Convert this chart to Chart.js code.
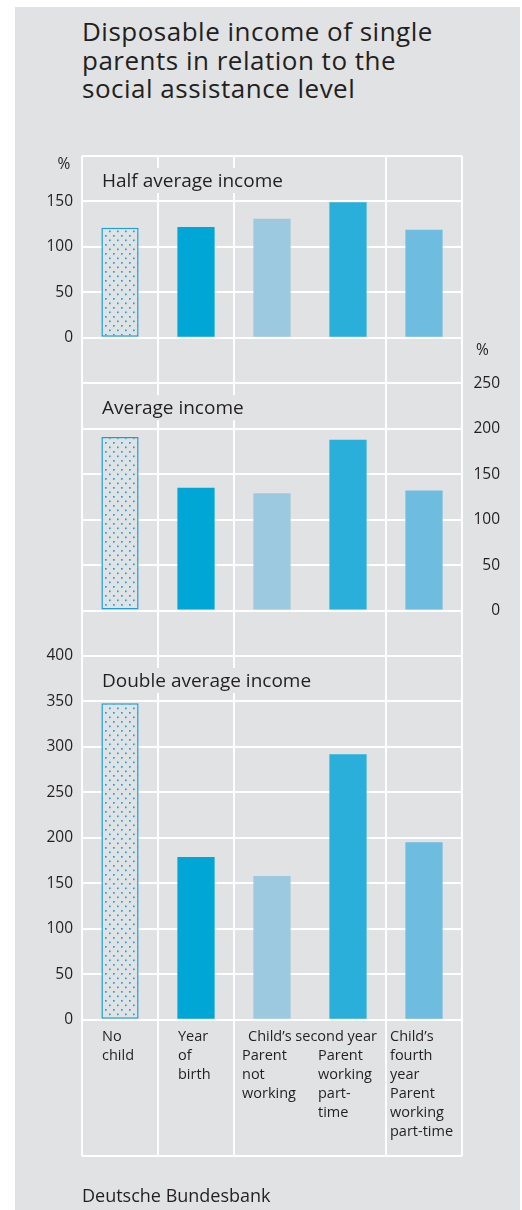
<!DOCTYPE html>
<html>
<head>
<meta charset="utf-8">
<title>Disposable income of single parents</title>
<script src="https://cdn.jsdelivr.net/npm/chart.js@4.4.1/dist/chart.umd.min.js"></script>
<style>
  html, body { margin: 0; padding: 0; background: #fff; overflow: hidden; }
  body { width: 522px; height: 1210px; position: relative; font-family: "Open Sans", sans-serif; color: #231f20; }
  .panel { position: absolute; left: 15px; top: 7px; width: 505px; height: 1203px; background: #e1e2e4; }
  h1 { position: absolute; left: 82px; top: 17px; margin: 0; font-size: 26px; line-height: 28.5px; font-weight: 400; letter-spacing: 0.5px; }
  .source { position: absolute; left: 82px; top: 1184px; font-size: 18px; line-height: 22px; }
  canvas { position: absolute; left: 0; top: 0; }
</style>
</head>
<body>
<div class="panel"></div>
<h1>Disposable income of single<br>parents in relation to the<br>social assistance level</h1>
<canvas id="incomeChart" width="522" height="1210"></canvas>
<div class="source">Deutsche Bundesbank</div>
<script>
// ===== DATA =====
const categories = [
  ["No", "child"],
  ["Year", "of", "birth"],
  ["Parent", "not", "working"],
  ["Parent", "working", "part-", "time"],
  ["Child’s", "fourth", "year", "Parent", "working", "part-time"]
];
const groupLabel = "Child’s second year";
const groupCategories = [2, 3];
const panelTitles = ["Half average income", "Average income", "Double average income"];

const halfAverage = [121, 122, 131, 149, 119];
const average = [191, 135, 129, 188, 132];
const doubleAverage = [348, 179, 158, 292, 195];

const topTicks = [0, 50, 100, 150];
const middleTicks = [0, 50, 100, 150, 200, 250];
const bottomTicks = [0, 50, 100, 150, 200, 250, 300, 350, 400];

// ===== STYLE =====
const GRAY = "#e1e2e4";
const INK = "#231f20";
const FONT = "'Open Sans', sans-serif";

const canvas = document.getElementById("incomeChart");
const ctx = canvas.getContext("2d");

// dotted fill for the "No child" bar
function dotPattern() {
  const tile = document.createElement("canvas");
  tile.width = 8;
  tile.height = 9;
  const g = tile.getContext("2d");
  g.fillStyle = GRAY;
  g.fillRect(0, 0, 8, 9);
  g.fillStyle = "#1ea5dc";
  g.fillRect(1, 1, 1.7, 1.7);
  g.fillRect(5, 5.5, 1.7, 1.7);
  return ctx.createPattern(tile, "repeat");
}

const barColors = [dotPattern(), "#00a6d6", "#9cc9e0", "#29afda", "#6ebde0"];

function barDataset(label, data, axis) {
  return {
    label: label,
    data: data,
    yAxisID: axis,
    grouped: false,
    backgroundColor: barColors,
    borderColor: ["#1d9fd6", "transparent", "transparent", "transparent", "transparent"],
    borderWidth: [1.5, 0, 0, 0, 0],
    borderSkipped: false,
    barPercentage: 0.49,
    categoryPercentage: 1
  };
}

const tickFont = { family: FONT, size: 15.5 };

function panelAxis(min, max, shown, weight, extra) {
  return Object.assign({
    position: "left",
    stack: "panels",
    stackWeight: max - min,
    weight: weight,
    min: min,
    max: max,
    ticks: {
      stepSize: 50,
      autoSkip: false,
      padding: 9,
      color: INK,
      font: tickFont,
      callback: v => shown.includes(v) ? v : ""
    },
    grid: {
      color: c => (c.tick && c.tick.value >= 0) ? "#fff" : "transparent",
      lineWidth: 2,
      drawTicks: false
    },
    border: { display: false },
    afterFit: s => { s.width = 82; }
  }, extra || {});
}

// ===== TEXT ON THE CHART =====
const annotations = {
  id: "annotations",
  beforeDatasetsDraw(chart) {
    const { ctx, chartArea, scales } = chart;
    ctx.save();
    ctx.font = "19px " + FONT;
    ctx.textBaseline = "alphabetic";
    ["yTop", "yMid", "yBot"].forEach((id, i) => {
      const x = chartArea.left + 20;
      const y = scales[id].top + 31;
      const w = ctx.measureText(panelTitles[i]).width;
      ctx.fillStyle = GRAY;
      ctx.fillRect(x - 3, y - 19, w + 6, 25);
      ctx.fillStyle = INK;
      ctx.fillText(panelTitles[i], x, y);
    });
    ctx.restore();
  },
  afterDraw(chart) {
    const { ctx, chartArea, scales } = chart;
    const { x, yTop, yMid, yBot } = scales;
    ctx.save();
    ctx.fillStyle = INK;
    ctx.textBaseline = "alphabetic";
    ctx.font = "15.5px " + FONT;

    // unit labels
    ctx.textAlign = "center";
    ctx.fillText("%", chartArea.left - 18, yTop.top + 13);
    ctx.textAlign = "left";
    ctx.fillText("%", chartArea.right + 14, yMid.top - 28);

    // category labels
    ctx.font = "14.5px " + FONT;
    const firstLine = yBot.getPixelForValue(0) + 21;
    const lineHeight = 19;
    const shift = [-18, -18, -30, -30, -34];
    ctx.fillText(groupLabel, x.getPixelForValue(groupCategories[0]) - 24, firstLine);
    categories.forEach((lines, i) => {
      const start = groupCategories.includes(i) ? 1 : 0;
      lines.forEach((line, j) => {
        ctx.fillText(line, x.getPixelForValue(i) + shift[i], firstLine + (start + j) * lineHeight);
      });
    });
    ctx.restore();
  }
};

// ===== CHART =====
new Chart(canvas, {
  type: "bar",
  data: {
    labels: categories.map(l => l.join(" ")),
    datasets: [
      barDataset(panelTitles[0], halfAverage, "yTop"),
      barDataset(panelTitles[1], average, "yMid"),
      barDataset(panelTitles[2], doubleAverage, "yBot")
    ]
  },
  options: {
    responsive: false,
    animation: false,
    events: [],
    layout: { padding: { top: 156, bottom: 54, left: 0, right: 22 } },
    plugins: { legend: { display: false }, tooltip: { enabled: false } },
    scales: {
      x: {
        offset: true,
        grid: {
          offset: true,
          color: c => c.index === 3 ? "transparent" : "#fff",
          lineWidth: 2,
          drawTicks: false
        },
        border: { display: false },
        ticks: { display: false },
        afterFit: s => { s.height = 0; }
      },
      yTop: panelAxis(-50, 200, topTicks, 3),
      yMid: panelAxis(-50, 250, [], 2),
      yBot: panelAxis(-150, 400, bottomTicks, 1, {
        grid: {
          color: c => (c.tick && (c.tick.value >= 0 || c.tick.value === -150)) ? "#fff" : "transparent",
          lineWidth: 2,
          drawTicks: false
        }
      }),
      yRight: {
        position: "right",
        min: -600,
        max: 500,
        ticks: {
          stepSize: 50,
          autoSkip: false,
          padding: 11,
          crossAlign: "far",
          color: INK,
          font: tickFont,
          callback: v => middleTicks.includes(v) ? v : ""
        },
        grid: { display: false },
        border: { display: false },
        afterFit: s => { s.width = 38; }
      }
    }
  },
  plugins: [annotations]
});
</script>
</body>
</html>
